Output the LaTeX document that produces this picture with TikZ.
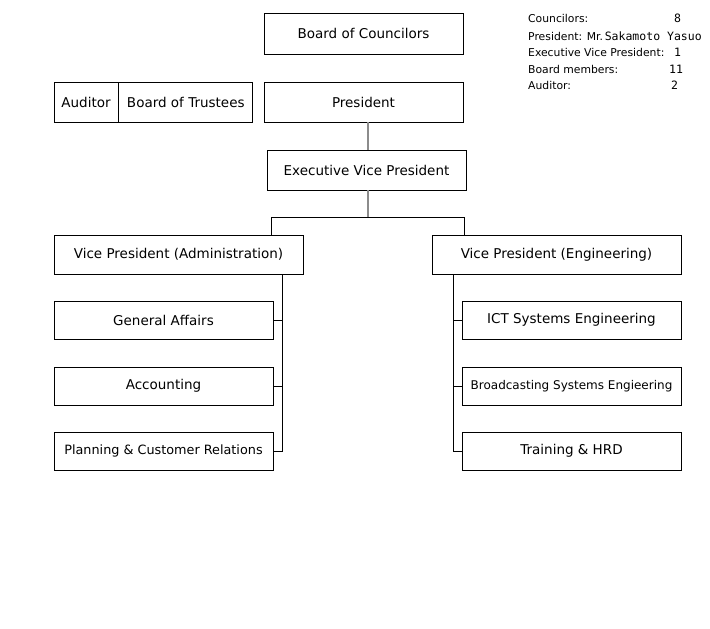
\documentclass[tikz,border=0pt]{standalone}
\usepackage{fontspec}
\setmainfont{DejaVu Sans}
\newfontfamily\monofont{DejaVu Sans Mono}
\usetikzlibrary{positioning}

\tikzset{
  unit/.style={draw, thick, fill=white, inner sep=0pt, font=\fontsize{13.5}{15}\selectfont},
  narrow/.style={font=\fontsize{12}{14}\selectfont},
  info/.style={anchor=base west, inner sep=0pt, font=\fontsize{10.8}{12}\selectfont},
  figure/.style={info, font=\monofont\fontsize{11.5}{12}\selectfont},
  link/.style={draw=black, line width=0.8pt},
  trunk/.style={draw=gray!90, line width=1.8pt}
}

\begin{document}
\begin{tikzpicture}[x=1pt, y=-1pt]
  \useasboundingbox (0,0) rectangle (710,629);

  % top level
  \node[unit, minimum width=199pt, minimum height=41pt] (council) at (363.5,33.5) {Board of Councilors};
  \node[unit, minimum width=199pt, minimum height=40pt] (pres) at (363.5,102) {President};
  \node[unit, minimum width=64pt, minimum height=40pt] (aud) at (86,102) {Auditor};
  \node[unit, minimum width=134pt, minimum height=40pt, right=0pt of aud] (trust) {Board of Trustees};
  \node[unit, minimum width=199pt, minimum height=40pt] (evp) at (366.5,170) {Executive Vice President};

  % vice presidents
  \node[unit, minimum width=249pt, minimum height=39pt] (vpa) at (178.5,254.5) {Vice President (Administration)};
  \node[unit, minimum width=249pt, minimum height=39pt] (vpe) at (556.5,254.5) {Vice President (Engineering)};

  % administration side
  \node[unit, minimum width=219pt, minimum height=38pt] (ga) at (163.5,320) {General Affairs};
  \node[unit, minimum width=219pt, minimum height=38pt] (acc) at (163.5,386) {Accounting};
  \node[unit, font=\fontsize{12.8}{14}\selectfont, minimum width=219pt, minimum height=38pt] (plan) at (163.5,451) {Planning \& Customer Relations};

  % engineering side
  \node[unit, minimum width=219pt, minimum height=38pt] (ict) at (571.5,320) {ICT Systems Engineering};
  \node[unit, narrow, minimum width=219pt, minimum height=38pt] (bcast) at (571.5,386) {Broadcasting Systems Engieering};
  \node[unit, minimum width=219pt, minimum height=38pt] (hrd) at (571.5,451) {Training \& HRD};

  % connectors
  \coordinate (bar) at (368,217);
  \coordinate (barL) at (271,217);
  \coordinate (barR) at (464,217);
  \coordinate (spineL) at (282,0);
  \coordinate (spineR) at (453,0);
  \draw[trunk] (pres.south -| bar) -- (evp.north -| bar);
  \draw[trunk] (evp.south -| bar) -- (bar);
  \draw[link] (barL |- vpa.north) -- (barL) -- (barR) -- (barR |- vpe.north);
  \draw[link] (spineL |- vpa.south) -- (spineL |- plan.east) -- (plan.east);
  \draw[link] (ga.east) -- (ga.east -| spineL);
  \draw[link] (acc.east) -- (acc.east -| spineL);
  \draw[link] (spineR |- vpe.south) -- (spineR |- hrd.west) -- (hrd.west);
  \draw[link] (ict.west) -- (ict.west -| spineR);
  \draw[link] (bcast.west) -- (bcast.west -| spineR);

  % figures
  \node[info] (n1) at (528,23) {Councilors:};
  \node[info] (n2) at (528,40) {President: Mr.\,{\monofont\fontsize{11.5}{12}\selectfont Sakamoto Yasuo}};
  \node[info] (n3) at (528,56) {Executive Vice President:};
  \node[info] (n4) at (528,73) {Board members:};
  \node[info] (n5) at (528,89) {Auditor:};
  \node[figure] (v1) at (674,23) {8};
  \node[figure] (v3) at (674,56) {1};
  \node[figure] (v4) at (669,73) {11};
  \node[figure] (v5) at (671,89) {2};
\end{tikzpicture}
\end{document}
